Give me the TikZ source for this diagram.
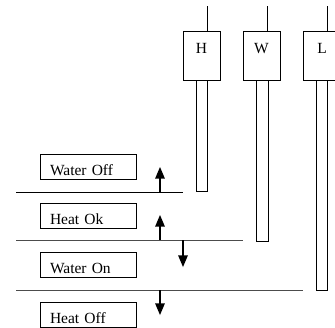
\documentclass[tikz,border=0pt]{standalone}
\usepackage{fontspec}
\setmainfont{Liberation Serif}
\usetikzlibrary{arrows}

\tikzset{
  state/.style={draw, line width=0.9pt, minimum width=96pt, text width=76pt,
    inner xsep=10pt, inner ysep=0pt, text height=21pt, text depth=4pt,
    align=left, font=\fontsize{15.5}{17}\selectfont},
  sensor/.style={draw, line width=0.9pt, minimum width=37pt, inner sep=0pt,
    text height=22pt, text depth=27pt, font=\fontsize{15.5}{17}\selectfont},
  level/.style={line width=0.9pt},
  move/.style={line width=1.7pt, -triangle 45}
}

\begin{document}
\begin{tikzpicture}[x=1pt, y=-1pt]
\useasboundingbox (0,0) rectangle (335,327);

% probes
\node[sensor] (h) at (201.5,55.5) {H};
\node[sensor] (w) at (261.5,55.5) {W};
\node[sensor, minimum width=38pt] (l) at (322,55.5) {L};
\draw[level] (207,6) -- (207,31);
\draw[level] (267,6) -- (267,31);
\draw[level] (327,6) -- (327,31);
\draw[level] (196,80) rectangle (207,191);
\draw[level] (256,80) rectangle (268,241);
\draw[level] (316,80) rectangle (327,290);

% levels
\draw[level] (16,192) -- (h.west |- 0,192);
\draw[level, black!70] (16,240) -- (w.west |- 0,240);
\draw[level, black!70] (16,290) -- (l.west |- 0,290);

% states
\node[state] (woff) at (88,166.5) {Water Off};
\node[state] (hok) at (88,216) {Heat Ok};
\node[state] (won) at (88,265) {Water On};
\node[state] (hoff) at (88,314.5) {Heat Off};

\draw[move] (160,192) -- (160,167);
\draw[move] (160,240) -- (160,215);
\draw[move] (183,240) -- (183,267);
\draw[move] (160,290) -- (160,315);
\end{tikzpicture}
\end{document}
